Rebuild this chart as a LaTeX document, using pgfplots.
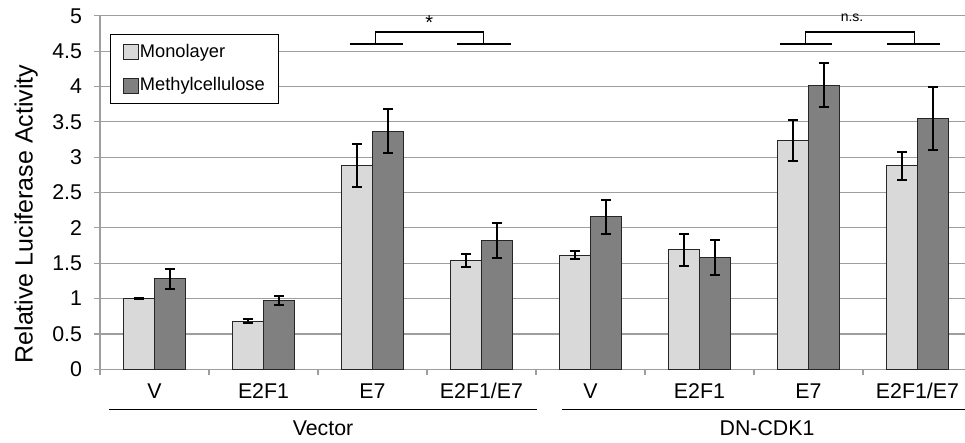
\documentclass[border=0pt]{standalone}
\usepackage{pgfplots}
\pgfplotsset{compat=1.18}
\usepackage{fontspec}
\setmainfont{Liberation Sans}
\definecolor{monogray}{RGB}{217,217,217}
\definecolor{methgray}{RGB}{128,128,128}
\definecolor{gridgray}{RGB}{158,158,158}
\begin{document}
\begin{tikzpicture}
\useasboundingbox (0,0) rectangle (723.75pt,332.25pt);
\begin{axis}[
  at={(75pt,55.275pt)}, anchor=south west,
  scale only axis, width=648.75pt, height=265.125pt,
  xmin=-0.5, xmax=7.436, ymin=0, ymax=5,
  enlargelimits=false, clip=false,
  axis x line*=bottom, axis y line*=left,
  axis line style={draw=gridgray, line width=0.9pt},
  ymajorgrids, grid style={draw=gridgray, line width=0.9pt},
  ytick={0,0.5,1,1.5,2,2.5,3,3.5,4,4.5,5},
  yticklabels={0,0.5,1,1.5,2,2.5,3,3.5,4,4.5,5},
  xtick={0,1,2,3,4,5,6,7},
  xticklabels={V,E2F1,E7,E2F1/E7,V,E2F1,E7,E2F1/E7},
  minor xtick={-0.5,0.5,1.5,2.5,3.5,4.5,5.5,6.5},
  minor ytick={0,0.5,1,1.5,2,2.5,3,3.5,4,4.5,5},
  major tick length=0pt, minor tick length=4.5pt,
  tick align=outside,
  tick style={draw=gridgray, line width=0.9pt},
  every tick label/.append style={font=\fontsize{16}{18}\selectfont},
  yticklabel style={xshift=-10pt},
  xticklabel style={yshift=-6.5pt, text height=12pt, text depth=3.5pt},
  ylabel={Relative Luciferase Activity},
  ylabel style={font=\fontsize{18.75}{22}\selectfont, at={(axis description cs:-0.0855,0.439)}, anchor=center},
  ybar, bar width=0.285,
  legend style={at={(rel axis cs:0.0116,0.949)}, anchor=north west,
    draw=black, line width=0.9pt, font=\fontsize{13.7}{16}\selectfont,
    inner xsep=9pt, inner ysep=5.75pt, row sep=9.5pt,
    nodes={inner sep=1pt, text height=10.5pt, text depth=3pt}},
  legend cell align=left,
]
\addplot+[bar shift=-0.1425, fill=monogray, draw=black!85, line width=0.7pt,
  legend image code/.code={\draw[fill=monogray, draw=black!85, line width=0.7pt] (0pt,-5.6pt) rectangle (11.25pt,5.6pt);},
  error bars/.cd, y dir=both, y explicit,
  error bar style={line width=1.5pt, black},
  error mark options={rotate=90, mark size=3.75pt, line width=1.5pt, black}]
  table[x=x, y=y, y error=e] {
x y e
0 1.00 0.01
1 0.68 0.03
2 2.88 0.30
3 1.535 0.095
4 1.615 0.055
5 1.69 0.23
6 3.23 0.29
7 2.88 0.20
};
\addlegendentry{Monolayer}
\addplot+[bar shift=0.1425, fill=methgray, draw=black!85, line width=0.7pt,
  legend image code/.code={\draw[fill=methgray, draw=black!85, line width=0.7pt] (0pt,-5.6pt) rectangle (11.25pt,5.6pt);},
  error bars/.cd, y dir=both, y explicit,
  error bar style={line width=1.5pt, black},
  error mark options={rotate=90, mark size=3.75pt, line width=1.5pt, black}]
  table[x=x, y=y, y error=e] {
x y e
0 1.28 0.14
1 0.975 0.065
2 3.37 0.31
3 1.82 0.25
4 2.16 0.24
5 1.585 0.245
6 4.02 0.315
7 3.55 0.445
};
\addlegendentry{Methylcellulose}
% significance brackets
\draw[black, line width=1pt] (axis cs:1.79,4.6) -- (axis cs:2.28,4.6);
\draw[black, line width=1pt] (axis cs:2.775,4.6) -- (axis cs:3.27,4.6);
\draw[black, line width=1pt] (axis cs:2.03,4.6) -- (axis cs:2.03,4.77) -- (axis cs:3.02,4.77) -- (axis cs:3.02,4.6);
\node[font=\fontsize{15}{17}\selectfont] at (axis cs:2.52,4.91) {*};
\draw[black, line width=1pt] (axis cs:5.74,4.6) -- (axis cs:6.22,4.6);
\draw[black, line width=1pt] (axis cs:6.72,4.6) -- (axis cs:7.21,4.6);
\draw[black, line width=1pt] (axis cs:5.97,4.6) -- (axis cs:5.97,4.77) -- (axis cs:6.97,4.77) -- (axis cs:6.97,4.6);
\node[font=\fontsize{10.5}{12}\selectfont] at (axis cs:6.40,4.965) {n.s.};
% group labels
\draw[black, line width=1.2pt] (axis cs:-0.417,-0.566) -- (axis cs:3.51,-0.566);
\draw[black, line width=1.2pt] (axis cs:3.74,-0.566) -- (axis cs:7.436,-0.566);
\node[font=\fontsize{16}{18}\selectfont] at (axis cs:1.546,-0.837) {Vector};
\node[font=\fontsize{16}{18}\selectfont] at (axis cs:5.62,-0.837) {DN-CDK1};
\end{axis}
\end{tikzpicture}
\end{document}
